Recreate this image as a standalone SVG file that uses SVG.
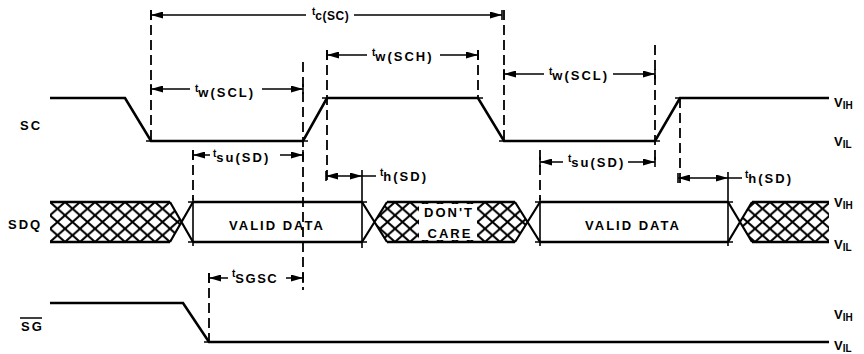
<svg xmlns="http://www.w3.org/2000/svg" width="864" height="354" viewBox="0 0 864 354">
<style>
text{font-family:"Liberation Sans",Arial,sans-serif;font-weight:bold;fill:#000}
.wave{fill:none;stroke:#000;stroke-width:2.6;stroke-linejoin:miter}
.edge{fill:none;stroke:#000;stroke-width:2.2}
.dash{fill:none;stroke:#000;stroke-width:1.8;stroke-dasharray:10 5}
.dim{fill:none;stroke:#000;stroke-width:1.5;marker-end:url(#ah)}
.ln{fill:none;stroke:#000;stroke-width:1.5}
.tick{fill:none;stroke:#000;stroke-width:1.6}
.hatch{fill:url(#xh);stroke:none}
.lbl{font-size:13px;letter-spacing:2px}
.tm{font-size:13px;letter-spacing:2px}
.tt{font-size:10px;letter-spacing:0}
.v{font-size:13px}
.vs{font-size:10px}
</style>
<defs>
<marker id="ah" viewBox="0 0 12 7" refX="12" refY="3.5" markerWidth="12" markerHeight="7" markerUnits="userSpaceOnUse" orient="auto">
<path d="M0,0 L12,3.5 L0,7 z" fill="#000"/>
</marker>
<pattern id="xh" patternUnits="userSpaceOnUse" x="50" y="202" width="15" height="13.333">
<path d="M-1,-0.89 L16,14.22 M-1,14.22 L16,-0.89" stroke="#000" stroke-width="2" fill="none"/>
</pattern>
</defs>

<g id="signal-labels">
<text class="lbl" x="20" y="130">SC</text>
<text class="lbl" x="8" y="229">SDQ</text>
<text class="lbl" x="21" y="331">SG</text>
<path d="M20,318 H42" stroke="#000" stroke-width="1.5"/>
</g>

<g id="sc-signal">
<polyline class="wave" points="50,98 125,98 151,141 303,141 327,98 478,98 504,141 655,141 680,98 829,98"/>
</g>

<g id="sdq-signal">
<polygon class="hatch" points="50,202 170,202 181.5,222 170,242 50,242"/>
<polygon class="hatch" points="374.5,222 387,202 515,202 527.5,222 515,242 387,242"/>
<polygon class="hatch" points="740,222 752,202 829,202 829,242 752,242"/>
<rect x="419" y="204" width="58" height="36" fill="#fff"/>
<path class="wave" d="M50,202 H170 M50,242 H170 M193,202 H362 M193,242 H362 M387,202 H515 M387,242 H515 M540,202 H728 M540,242 H728 M752,202 H829 M752,242 H829"/>
<path class="edge" d="M170,202 L193,242 M170,242 L193,202 M362,202 L387,242 M362,242 L387,202 M515,202 L540,242 M515,242 L540,202 M728,202 L752,242 M728,242 L752,202"/>
<text class="lbl" x="449" y="217" text-anchor="middle">DON'T</text>
<text class="lbl" x="450" y="238" text-anchor="middle">CARE</text>
<text class="lbl" x="277" y="230" text-anchor="middle">VALID DATA</text>
<text class="lbl" x="633" y="230" text-anchor="middle">VALID DATA</text>
</g>

<g id="sg-signal">
<polyline class="wave" points="50,303 183,303 209,342 829,342"/>
</g>

<g id="level-labels">
<text x="834" y="107"><tspan class="v">V</tspan><tspan class="vs" dy="2">IH</tspan></text>
<text x="834" y="146"><tspan class="v">V</tspan><tspan class="vs" dy="2">IL</tspan></text>
<text x="834" y="207"><tspan class="v">V</tspan><tspan class="vs" dy="2">IH</tspan></text>
<text x="834" y="249"><tspan class="v">V</tspan><tspan class="vs" dy="2">IL</tspan></text>
<text x="834" y="319"><tspan class="v">V</tspan><tspan class="vs" dy="2">IH</tspan></text>
<text x="834" y="350"><tspan class="v">V</tspan><tspan class="vs" dy="2">IL</tspan></text>
</g>

<g id="connectors">
<path class="dash" d="M151,10 V141 M303,62 V290 M327,50 V182 M478,50 V98 M504,10 V141 M655,45 V165 M680,98 V186 M193,150 V200 M540,150 V200 M209,273 V342"/>
<path class="tick" d="M193,198 V246 M362,170 V248 M540,198 V246 M728,172 V246"/>
<path class="tick" d="M146,141 H156 M298,141 H308 M322,98 H332 M473,98 H483 M499,141 H509 M650,141 H660 M675,98 H685 M188,202 H198 M188,242 H198 M357,202 H367 M357,242 H367 M535,202 H545 M535,242 H545 M723,202 H733 M723,242 H733 M204,342 H214"/>
<path class="tick" d="M151,10 V20 M502,10 V20 M151,84 V94 M303,84 V94 M327,50 V60 M478,50 V60 M504,69 V79 M655,69 V79 M193,150 V160 M303,150 V160 M540,157 V167 M655,157 V167 M326,171 V181 M678,173 V183 M209,273 V283 M303,273 V283"/>
<path class="dim" d="M306,15 H151"/><path class="dim" d="M354,15 H502"/>
<text class="tm" x="312" y="20" style="letter-spacing:0.5px;font-size:12px"><tspan class="tt" dy="-5">t</tspan><tspan dy="5">c(SC)</tspan></text>
<path class="dim" d="M190,89 H151"/><path class="dim" d="M262,89 H303"/>
<text class="tm" x="195" y="97"><tspan class="tt" dy="-5">t</tspan><tspan dy="5">w(SCL)</tspan></text>
<path class="dim" d="M367,55 H327"/><path class="dim" d="M440,55 H478"/>
<text class="tm" x="372" y="61"><tspan class="tt" dy="-5">t</tspan><tspan dy="5">w(SCH)</tspan></text>
<path class="dim" d="M544,74 H504"/><path class="dim" d="M613,74 H655"/>
<text class="tm" x="549" y="80"><tspan class="tt" dy="-5">t</tspan><tspan dy="5">w(SCL)</tspan></text>
<path class="dim" d="M210,155 H193"/><path class="dim" d="M280,155 H303"/>
<text class="tm" x="213" y="162"><tspan class="tt" dy="-5">t</tspan><tspan dy="5">su(SD)</tspan></text>
<path class="dim" d="M563,162 H540"/><path class="dim" d="M628,162 H655"/>
<text class="tm" x="568" y="167"><tspan class="tt" dy="-5">t</tspan><tspan dy="5">su(SD)</tspan></text>
<path class="dim" d="M344,176 H326"/><path class="dim" d="M344,176 H362"/><path class="ln" d="M362,176 H376"/>
<text class="tm" x="380" y="181"><tspan class="tt" dy="-5">t</tspan><tspan dy="5">h(SD)</tspan></text>
<path class="dim" d="M703,178 H678"/><path class="dim" d="M703,178 H728"/><path class="ln" d="M728,178 H742"/>
<text class="tm" x="745" y="183"><tspan class="tt" dy="-5">t</tspan><tspan dy="5">h(SD)</tspan></text>
<path class="dim" d="M228,278 H209"/><path class="dim" d="M286,278 H303"/>
<text class="tm" x="232" y="283" style="letter-spacing:1.5px"><tspan class="tt" dy="-6">t</tspan><tspan dy="6">SGSC</tspan></text>
</g>
</svg>
